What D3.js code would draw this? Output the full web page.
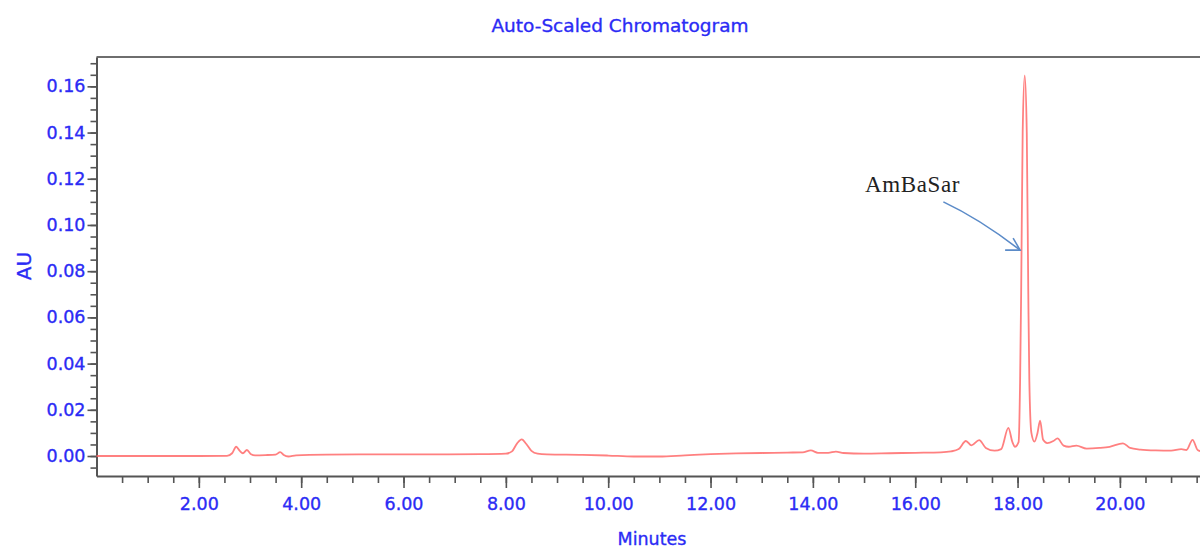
<!DOCTYPE html>
<html>
<head>
<meta charset="utf-8">
<script src="https://cdn.jsdelivr.net/npm/d3@7"></script>
<style>
  html, body { margin: 0; padding: 0; background: #fff; }
  svg { display: block; }
  .blue { fill: #2b2bf5; stroke: #2b2bf5; stroke-width: 0.35px; font-family: "DejaVu Sans", sans-serif; }
</style>
</head>
<body>
<svg id="chart" width="1200" height="550"></svg>
<script>
// Chromatogram trace (minutes, AU)
const minutes = [
  0.00, 1.00, 2.00, 2.55, 2.65, 2.73, 2.80, 2.86, 2.94, 3.02, 3.10, 3.30,
  3.50, 3.59, 3.66, 3.75, 3.90, 4.50, 5.50, 6.50, 7.50, 8.00, 8.12, 8.22,
  8.31, 8.40, 8.50, 8.62, 8.80, 9.50, 10.00, 10.50, 11.00, 11.50, 12.00,
  12.50, 13.00, 13.50, 13.80, 13.96, 14.10, 14.30, 14.45, 14.60, 15.00,
  15.50, 16.00, 16.50, 16.70, 16.85, 16.99, 17.10, 17.25, 17.38, 17.55,
  17.68, 17.82, 17.90, 17.95, 18.02, 18.05, 18.07, 18.10, 18.14, 18.18,
  18.21, 18.23, 18.27, 18.33, 18.39, 18.44, 18.50, 18.58, 18.70, 18.78,
  18.90, 19.00, 19.15, 19.35, 19.60, 19.80, 20.06, 20.20, 20.40, 20.70,
  21.00, 21.20, 21.30, 21.42, 21.52, 21.60,
];
const absorbance = [
  0.0000, 0.0000, 0.0000, 0.0001, 0.0012, 0.0040, 0.0022, 0.0012, 0.0026, 0.0008, 0.0003, 0.0004,
  0.0006, 0.0017, 0.0004, -0.0002, 0.0003, 0.0006, 0.0007, 0.0007, 0.0008, 0.0010, 0.0020, 0.0055,
  0.0072, 0.0052, 0.0022, 0.0010, 0.0007, 0.0005, 0.0002, -0.0002, -0.0002, 0.0003, 0.0008,
  0.0011, 0.0013, 0.0015, 0.0016, 0.0024, 0.0014, 0.0014, 0.0019, 0.0013, 0.0010,
  0.0012, 0.0014, 0.0016, 0.0020, 0.0030, 0.0065, 0.0046, 0.0069, 0.0035, 0.0023,
  0.0030, 0.0122, 0.0060, 0.0040, 0.0060, 0.0330, 0.0700, 0.1400, 0.1647, 0.1400,
  0.0700, 0.0330, 0.0100, 0.0062, 0.0100, 0.0153, 0.0070, 0.0056, 0.0065, 0.0076,
  0.0045, 0.0040, 0.0045, 0.0032, 0.0035, 0.0040, 0.0055, 0.0035, 0.0028, 0.0024,
  0.0023, 0.0030, 0.0026, 0.0070, 0.0026, 0.0020,
];

const xMajorTicks = [2, 4, 6, 8, 10, 12, 14, 16, 18, 20];
const xMinorTicks = d3.range(0.5, 22.01, 0.5);
const yMajorTicks = [0, 0.02, 0.04, 0.06, 0.08, 0.10, 0.12, 0.14, 0.16];
const yMinorTicks = d3.range(-0.005, 0.1701, 0.005);

// annotation: label position, arrow start, bend, tip (minutes, AU)
const noteLabel = "AmBaSar";
const noteText = [15.02, 0.1143];
const noteArrow = [[16.55, 0.1100], [17.27, 0.0999], [18.05, 0.0891]];

const svg = d3.select("#chart");
const W = 1200;
const plotLeft = 96.5, plotTop = 57, plotBottom = 476;

const x = d3.scaleLinear().domain([0, 22]).range([plotLeft, plotLeft + 22 * 51.17]);
const y = d3.scaleLinear().domain([-0.00865, 0.1727]).range([plotBottom, plotTop]);

// frame: top border
svg.append("line")
  .attr("x1", plotLeft).attr("x2", W).attr("y1", plotTop).attr("y2", plotTop)
  .attr("stroke", "#6e6e6e").attr("stroke-width", 2);

// x axis (minor then major)
svg.append("g").attr("transform", `translate(0,${plotBottom})`)
  .call(d3.axisBottom(x).tickValues(xMinorTicks).tickSize(7).tickFormat(""))
  .call((g) => g.select(".domain").remove())
  .call((g) => g.selectAll("line").attr("stroke", "#555").attr("stroke-width", 1.6));
const xa = svg.append("g").attr("transform", `translate(0,${plotBottom})`)
  .call(d3.axisBottom(x).tickValues(xMajorTicks).tickSize(12).tickSizeOuter(0)
    .tickPadding(10).tickFormat(d3.format(".2f")));
xa.select(".domain").attr("stroke", "#555").attr("stroke-width", 2);
xa.selectAll("line").attr("stroke", "#555").attr("stroke-width", 1.6);
xa.selectAll("text").attr("class", "blue").style("font-size", "17.5px");

// y axis
svg.append("g").attr("transform", `translate(${plotLeft},0)`)
  .call(d3.axisLeft(y).tickValues(yMinorTicks).tickSize(6).tickFormat(""))
  .call((g) => g.select(".domain").remove())
  .call((g) => g.selectAll("line").attr("stroke", "#555").attr("stroke-width", 1.6));
const ya = svg.append("g").attr("transform", `translate(${plotLeft},0)`)
  .call(d3.axisLeft(y).tickValues(yMajorTicks).tickSize(9).tickSizeOuter(0)
    .tickPadding(2).tickFormat(d3.format(".2f")));
ya.select(".domain").attr("stroke", "#555").attr("stroke-width", 2);
ya.selectAll("line").attr("stroke", "#555").attr("stroke-width", 1.6);
ya.selectAll("text").attr("class", "blue").style("font-size", "17.5px");

// trace
const pts = minutes.map((m, i) => [m, absorbance[i]]);
const line = d3.line().x((d) => x(d[0])).y((d) => y(d[1])).curve(d3.curveMonotoneX);
svg.append("path").datum(pts).attr("d", line)
  .attr("fill", "none").attr("stroke", "#ff6060").attr("stroke-width", 1.8)
  .attr("stroke-opacity", 0.8).attr("stroke-linejoin", "round");

// titles
svg.append("text").attr("class", "blue").attr("x", 620).attr("y", 32)
  .attr("text-anchor", "middle").style("font-size", "18.5px")
  .text("Auto-Scaled Chromatogram");
svg.append("text").attr("class", "blue").attr("x", 652).attr("y", 545)
  .attr("text-anchor", "middle").style("font-size", "17.5px").text("Minutes");
svg.append("text").attr("class", "blue")
  .attr("transform", "translate(31,266) rotate(-90)")
  .attr("text-anchor", "middle").style("font-size", "20px").text("AU");

// annotation
svg.append("text").attr("x", x(noteText[0])).attr("y", y(noteText[1]))
  .style("font-family", "'Liberation Serif', serif").style("font-size", "23px")
  .style("letter-spacing", "0.6px").attr("fill", "#222").text(noteLabel);
const [a0, a1, a2] = noteArrow.map((p) => [x(p[0]), y(p[1])]);
svg.append("path")
  .attr("d", `M${a0[0]},${a0[1]} Q${a1[0]},${a1[1] - 6} ${a2[0]},${a2[1]}`)
  .attr("fill", "none").attr("stroke", "#5b8bc8").attr("stroke-width", 1.6);
svg.append("path")
  .attr("d", `M${a2[0] - 15},${a2[1]} L${a2[0]},${a2[1]} L${a2[0] - 7},${a2[1] - 12}`)
  .attr("fill", "none").attr("stroke", "#5b8bc8").attr("stroke-width", 1.6);
</script>
</body>
</html>
